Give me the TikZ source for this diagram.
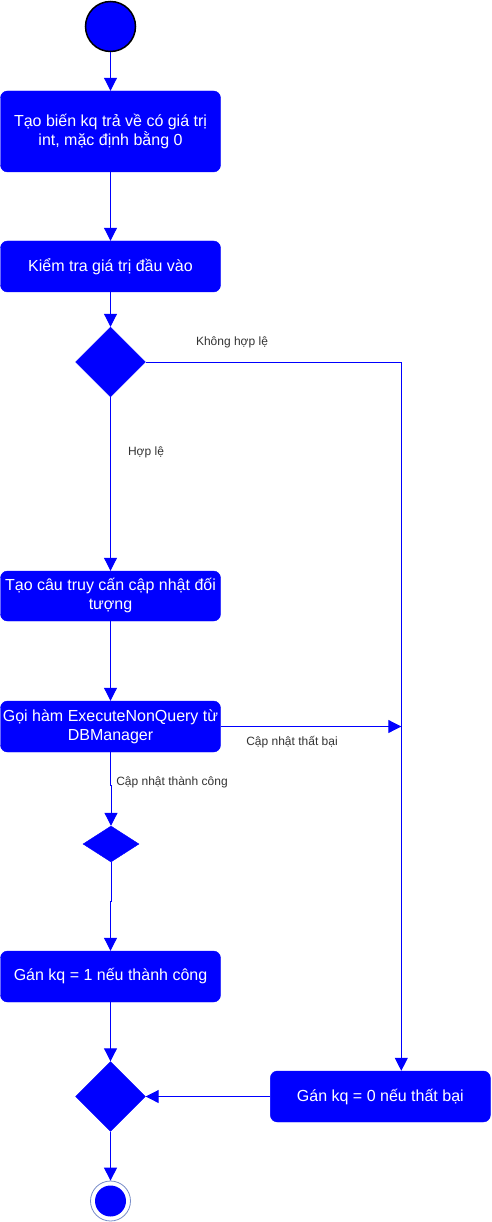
\documentclass[tikz,border=0pt]{standalone}
\usepackage{fontspec}
\setmainfont{Liberation Sans}
\usetikzlibrary{arrows.meta,shapes.geometric,calc}
\definecolor{bl}{RGB}{0,0,255}
\definecolor{lbl}{RGB}{51,51,51}
\definecolor{ring}{RGB}{120,140,200}
\tikzset{
  actbox/.style={fill=bl, draw=bl, rounded corners=7pt, minimum width=220pt, inner sep=0pt,
    text=white, align=center, font=\fontsize{16}{19}\selectfont},
  dia/.style={diamond, fill=bl, draw=bl, inner sep=0pt},
  flow/.style={draw=bl, line width=1pt, -{Triangle[length=13pt,width=13pt]}},
  plain/.style={draw=bl, line width=1pt},
  lab/.style={text=lbl, font=\fontsize{12}{14}\selectfont, inner sep=0pt}
}
\begin{document}
\begin{tikzpicture}[x=1pt,y=-1pt]
\useasboundingbox (0,0) rectangle (491,1222);
\node[circle, fill=bl, draw=black, line width=1.5pt, minimum size=50pt, inner sep=0pt] (start) at (110.5,26.5) {};
\node[actbox, minimum height=81pt] (b1) at (110.5,131.5) {Tạo biến kq trả về có giá trị\\int, mặc định bằng 0};
\node[actbox, minimum height=51pt] (b2) at (110.5,266.5) {Kiểm tra giá trị đầu vào};
\node[dia, minimum width=70pt, minimum height=70pt] (d1) at (110.5,362) {};
\node[actbox, minimum height=50pt] (b3) at (110.5,596) {Tạo câu truy cấn cập nhật đối\\tượng};
\node[actbox, minimum height=51pt] (b4) at (110.5,726.5) {Gọi hàm ExecuteNonQuery từ\\DBManager};
\node[dia, minimum width=56pt, minimum height=36pt] (d2) at (111,844) {};
\node[actbox, minimum height=51pt] (b5) at (110.5,976.5) {Gán kq = 1 nếu thành công};
\node[dia, minimum width=70pt, minimum height=70pt] (d3) at (110.5,1096.5) {};
\node[actbox, minimum height=51pt] (b6) at (380.35,1096.5) {Gán kq = 0 nếu thất bại};
\node[circle, draw=ring, line width=0.8pt, minimum size=40pt, inner sep=0pt] (endo) at (110.5,1201) {};
\node[circle, fill=bl, minimum size=31pt, inner sep=0pt] (endi) at (110.5,1201) {};
\coordinate (vx) at (401.3,362);
\coordinate (j1) at (110.5,785);
\coordinate (j2) at (111,901);

\draw[flow] (start) -- (b1);
\draw[flow] (b1) -- (b2);
\draw[flow] (b2) -- (d1);
\draw[flow] (d1) -- (b3);
\draw[flow] (b3) -- (b4);
\draw[plain] (d1.east) -- (vx);
\draw[flow] (vx) -- (vx |- b6.north);
\draw[flow] (b4.east) -- (vx |- b4.east);
\draw[flow] (b4.south) -- (j1) -| (d2.north);
\draw[flow] (d2.south) -- (j2) -| (b5.north);
\draw[flow] (b5) -- (d3);
\draw[flow] (b6.west) -- (d3.east);
\draw[flow] (d3.south) -- (endo.north);

\node[lab] (l1) at (232,342) {Không hợp lệ};
\node[lab] (l2) at (146,452) {Hợp lệ};
\node[lab] (l3) at (292,742) {Cập nhật thất bại};
\node[lab] (l4) at (172,782) {Cập nhật thành công};
\end{tikzpicture}
\end{document}
